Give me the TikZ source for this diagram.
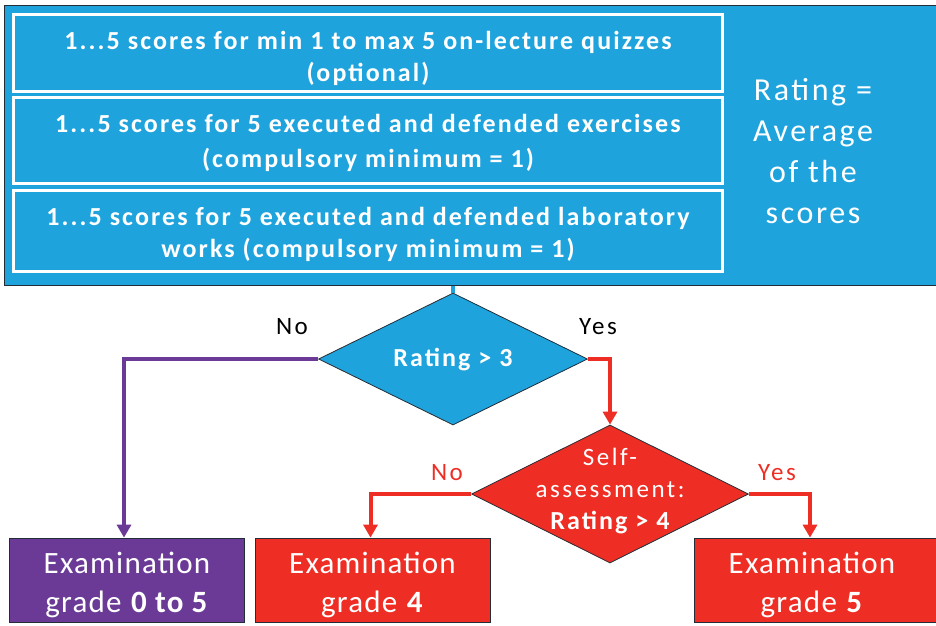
\documentclass[tikz,border=0pt]{standalone}
\usepackage{fontspec}
\setmainfont{Carlito}
\newfontfamily\widefont[LetterSpace=8]{Carlito}
\newfontfamily\gradefont[LetterSpace=4]{Carlito}
\newfontfamily\labelfont[LetterSpace=10]{Carlito}
\usetikzlibrary{shapes.geometric,arrows.meta}
\definecolor{skyblue}{RGB}{31,163,221}
\definecolor{grapurple}{RGB}{106,58,150}
\definecolor{firered}{RGB}{238,45,36}
\definecolor{edge}{RGB}{35,45,55}
\tikzset{
  x=1pt, y=-1pt,
  scorebox/.style={draw=white, line width=3pt, fill=skyblue,
    minimum width=709pt, minimum height=#1, inner sep=0pt},
  scoretext/.style={text=white, align=center, inner sep=0pt,
    font=\widefont\bfseries\fontsize{26}{#1}\selectfont},
  gradebox/.style={draw=edge, line width=0.8pt, fill=#1, minimum height=84pt, inner sep=0pt},
  gradetext/.style={text=white, align=center, inner sep=0pt,
    font=\gradefont\fontsize{31}{39}\selectfont},
  decision/.style={diamond, draw=edge, line width=0.8pt, fill=#1, inner sep=0pt},
  decisiontext/.style={text=white, align=center, inner sep=0pt,
    font=\widefont\fontsize{26}{32}\selectfont},
  flow/.style={line width=4pt, draw=#1, -{Triangle[length=13pt,width=14pt]}},
  answer/.style={font=\labelfont\fontsize{25}{28}\selectfont, inner sep=0pt}
}
\begin{document}
\begin{tikzpicture}
\useasboundingbox (0,0) rectangle (936,625);
\clip (0,0) rectangle (936,625);
% rating panel with the three score sources
\node[draw=edge, line width=1pt, fill=skyblue, minimum width=940pt, minimum height=280pt,
      inner sep=0pt, anchor=north west] (panel) at (4,5) {};
\node[scorebox=77pt] (q1) at (368,52.5) {};
\node[scorebox=86pt] (q2) at (368,140.5) {};
\node[scorebox=81pt] (q3) at (368,231) {};
\node[scoretext=32] (t1) at (368,58) {1...5 scores for min 1 to max 5 on-lecture quizzes\\(optional)};
\node[scoretext=35] (t2) at (368,142.5) {1...5 scores for 5 executed and defended exercises\\(compulsory minimum = 1)};
\node[scoretext=32] (t3) at (368,234) {1...5 scores for 5 executed and defended laboratory\\works (compulsory minimum = 1)};
\node[text=white, align=center, inner sep=0pt, font=\widefont\fontsize{32}{41}\selectfont] (rating) at (813,151)
  {Rating =\\Average\\of the\\scores};
% decisions
\node[decision=skyblue, minimum width=269pt, minimum height=132pt] (d1) at (453,359) {};
\node[decisiontext, font=\widefont\bfseries\fontsize{26}{32}\selectfont] (d1t) at (453,360) {Rating > 3};
\node[decision=firered, minimum width=277pt, minimum height=138pt] (d2) at (610,494) {};
\node[decisiontext, font=\labelfont\fontsize{25}{32}\selectfont] (d2t) at (610,491)
  {Self-\\assessment:\\\widefont\bfseries\fontsize{26}{32}\selectfont Rating > 4};
% grades
\node[gradebox=grapurple, minimum width=235pt] (g1) at (127,580) {};
\node[gradebox=firered, minimum width=235pt] (g2) at (372.5,580) {};
\node[gradebox=firered, minimum width=250pt] (g3) at (819,580) {};
\node[gradetext] (g1t) at (127,584.5) {Examination\\grade \textbf{0 to 5}};
\node[gradetext] (g2t) at (372.5,584.5) {Examination\\grade \textbf{4}};
\node[gradetext] (g3t) at (812,584.5) {Examination\\grade \textbf{5}};
% answer labels
\node[answer] (no1) at (292,327) {No};
\node[answer] (yes1) at (598,327) {Yes};
\node[answer, text=firered] (no2) at (447,473) {No};
\node[answer, text=firered] (yes2) at (777,473) {Yes};
% connectors
\draw[line width=4pt, skyblue] (panel.south -| d1.north) -- (d1.north);
\draw[flow=grapurple] (d1.west) -| ([xshift=-3pt]g1.north);
\draw[flow=firered] (d1.east) -| (d2.north);
\draw[flow=firered] (d2.west) -| ([xshift=-2pt]g2.north);
\draw[flow=firered] (d2.east) -| ([xshift=-9pt]g3.north);
\end{tikzpicture}
\end{document}
